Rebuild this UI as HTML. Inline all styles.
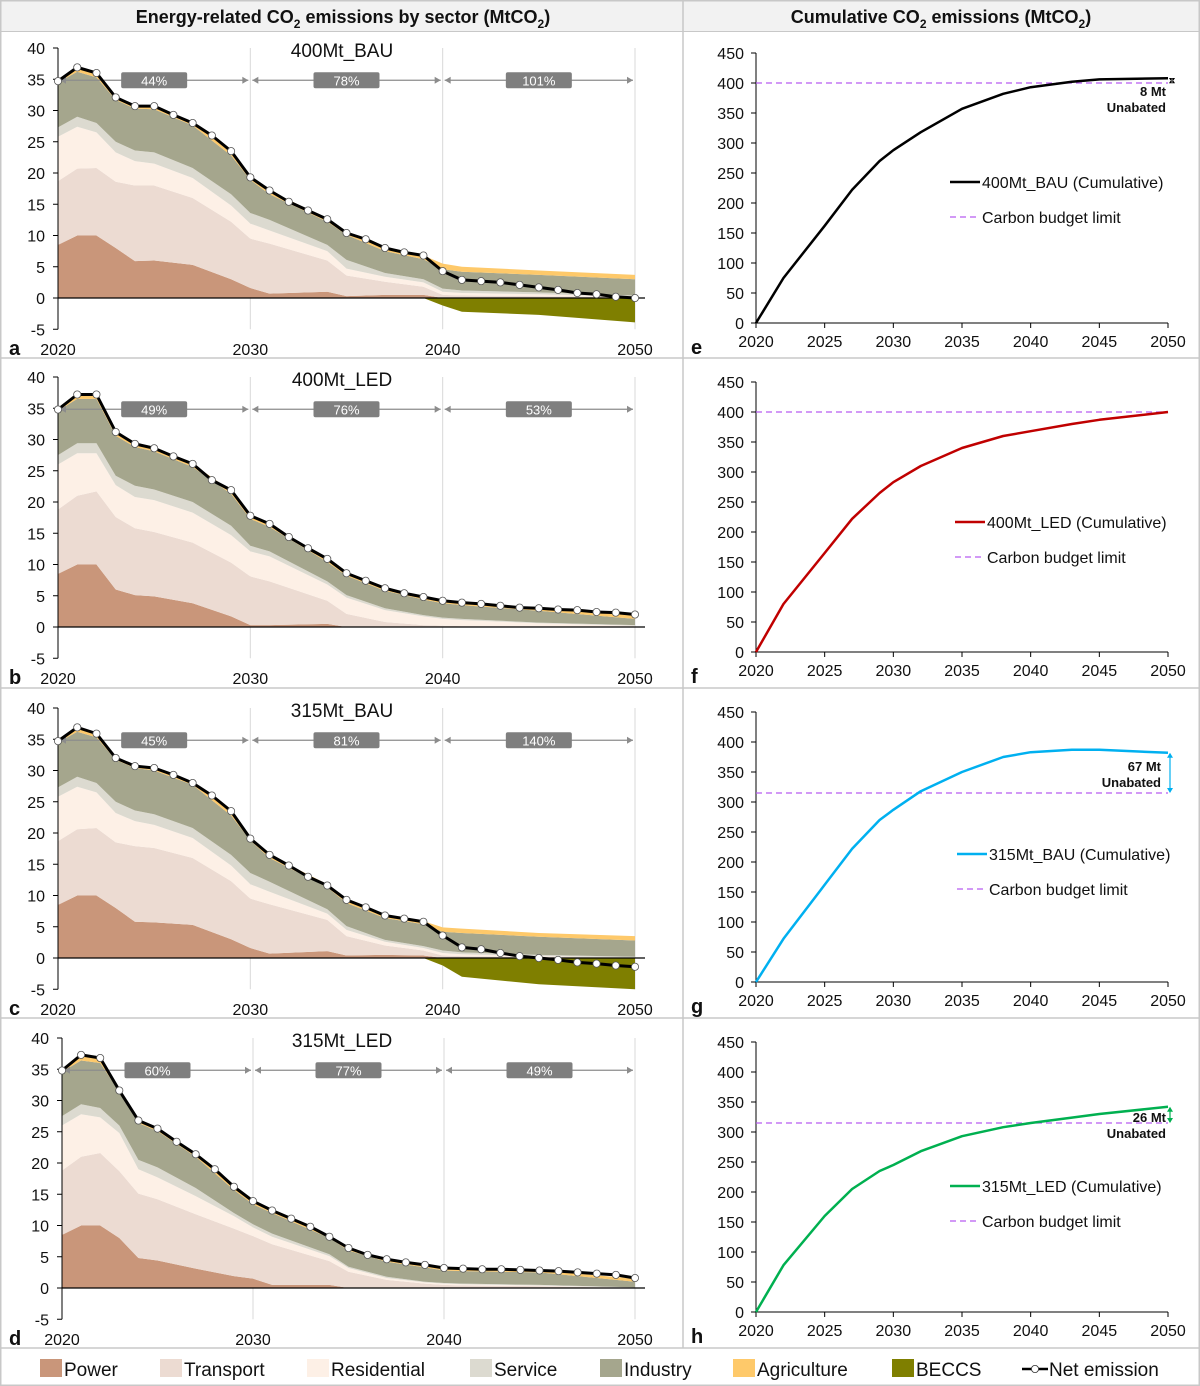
<!DOCTYPE html>
<html><head><meta charset="utf-8">
<style>
body{margin:0;background:#fff;}
svg{display:block;font-family:"Liberation Sans",Arial,sans-serif;}
</style></head>
<body>
<svg id="chart" width="1200" height="1386" viewBox="0 0 1200 1386" xmlns="http://www.w3.org/2000/svg">
<rect x="0" y="0" width="1200" height="1386" fill="#fff"/>
<rect x="0.5" y="0.5" width="1199" height="31" fill="#f2f2f2" stroke="#c8c8c8"/>
<text x="343" y="23" text-anchor="middle" font-size="18" font-weight="bold" fill="#111">Energy-related CO<tspan font-size="12" dy="5">2</tspan><tspan dy="-5"> emissions by sector (MtCO</tspan><tspan font-size="12" dy="5">2</tspan><tspan dy="-5">)</tspan></text>
<text x="941" y="23" text-anchor="middle" font-size="18" font-weight="bold" fill="#111">Cumulative CO<tspan font-size="12" dy="5">2</tspan><tspan dy="-5"> emissions (MtCO</tspan><tspan font-size="12" dy="5">2</tspan><tspan dy="-5">)</tspan></text>
<g id="frame" stroke="#c8c8c8" stroke-width="1.5" fill="none">
<rect x="0.75" y="0.75" width="1198.5" height="1384.5"/>
<line x1="683" y1="0" x2="683" y2="1348"/>
<line x1="0" y1="358" x2="1200" y2="358"/>
<line x1="0" y1="688" x2="1200" y2="688"/>
<line x1="0" y1="1018" x2="1200" y2="1018"/>
<line x1="0" y1="1348" x2="1200" y2="1348"/>
</g>
<g id="plots"></g>
<g id="legend"></g>
</svg>
<script>
// ---- Sector data (MtCO2) ----
const stackYears = [2020,2021,2022,2023,2024,2025,2027,2029,2030,2031,2034,2035,2037,2039,2040,2041,2045,2050];
const netYears = [2020,2021,2022,2023,2024,2025,2026,2027,2028,2029,2030,2031,2032,2033,2034,2035,2036,2037,2038,2039,2040,2041,2042,2043,2044,2045,2046,2047,2048,2049,2050];
const scenarioNames = ["400Mt_BAU","400Mt_LED","315Mt_BAU","315Mt_LED"];
const panelLetters = ["a","b","c","d"];
const decadeShares = [["44%","78%","101%"],["49%","76%","53%"],["45%","81%","140%"],["60%","77%","49%"]];

// 400Mt_BAU
const powerA = [8.5,10,10,8,5.9,6,5.3,3,1.6,0.7,1.0,0.3,0.5,0.5,0,0,0,0];
const transportA = [10.2,10.7,10.8,10.6,12.1,12,10.7,9.2,7.9,8.0,5.0,3.3,2.1,1.3,0.5,0.4,0.3,0.1];
const residentialA = [7.1,6.7,5.7,4.7,3.9,3.5,3.2,2.6,2.4,2.1,1.5,1.1,0.8,0.7,0.5,0.4,0.3,0.1];
const serviceA = [1.5,1.6,1.5,1.7,1.7,1.8,1.6,1.8,1.7,1.7,1.0,1.4,0.6,0.5,0.5,0.4,0.3,0.2];
const industryA = [7.2,7.2,7.3,6.7,6.7,6.9,6.8,6.2,5.3,4.1,3.7,4.0,3.5,3.2,3.1,3.0,2.8,2.6];
const agricultureA = [0.5,0.8,0.7,0.4,0.5,0.5,0.4,0.6,0.5,0.6,0.5,0.4,0.4,0.6,0.9,0.8,0.7,0.7];
const beccsA = [0,0,0,0,0,0,0,0,0,0,0,0,0,0,-1.2,-2.2,-2.7,-3.9];
const netA = [34.7,36.9,36,32.1,30.7,30.7,29.3,28,26,23.5,19.3,17.2,15.4,14,12.6,10.4,9.4,8.0,7.3,6.8,4.3,2.9,2.7,2.5,2.1,1.7,1.3,0.8,0.6,0.2,0];
// 400Mt_LED
const powerB = [8.5,10,10,6,5.1,4.9,3.8,1.7,0.3,0.3,0.5,0,0,0,0,0,0,0];
const transportB = [10.3,11,11.7,11.6,10.7,10.3,9.7,8.6,7.8,7.0,3.7,2.1,0.8,0.3,0.2,0.15,0.1,0];
const residentialB = [7.2,6.8,6.1,5.1,5.0,5.1,4.8,4.4,4.0,4.0,2.6,2.6,1.9,1.4,1.1,0.95,0.5,0.2];
const serviceB = [1.5,1.6,1.6,1.5,1.8,1.7,1.7,1.5,0.9,0.8,0.5,0.4,0.3,0.2,0.2,0.2,0.1,0.1];
const industryB = [7.1,7.1,7.1,6.4,6.2,6.1,5.6,5.1,4.3,3.9,3.1,3.1,2.8,2.5,2.3,2.2,1.9,1.0];
const agricultureB = [0.4,0.7,0.8,0.5,0.4,0.4,0.5,0.5,0.5,0.5,0.5,0.4,0.4,0.4,0.4,0.4,0.4,0.6];
const beccsB = [0,0,0,0,0,0,0,0,0,0,0,0,0,0,0,0,0,0];
const netB = [34.8,37.2,37.2,31.2,29.3,28.6,27.3,26.1,23.5,21.9,17.8,16.5,14.4,12.6,10.9,8.6,7.4,6.2,5.4,4.8,4.2,3.9,3.7,3.4,3.1,3.0,2.8,2.7,2.4,2.3,2.0];
// 315Mt_BAU
const powerC = [8.5,10,10,8,5.8,5.7,5.3,3,1.6,0.7,1.1,0.4,0.5,0.4,0,0,0,0];
const transportC = [10.2,10.6,10.8,10.5,12.1,11.9,10.7,9.3,7.9,7.9,5.0,3.1,1.5,0.8,0.4,0.3,0.1,0];
const residentialC = [7.1,6.8,5.7,4.7,4.0,3.7,3.2,2.5,2.3,2.0,1.0,1.0,0.6,0.4,0.4,0.3,0.2,0.1];
const serviceC = [1.5,1.6,1.5,1.8,1.7,1.7,1.6,1.7,1.8,1.6,0.7,0.6,0.3,0.3,0.4,0.3,0.2,0.1];
const industryC = [7.2,7.2,7.3,6.7,6.8,7.0,6.9,6.3,5.2,3.8,3.5,3.7,3.5,3.5,3.0,3.1,2.9,2.6];
const agricultureC = [0.5,0.8,0.7,0.4,0.4,0.4,0.4,0.6,0.4,0.5,0.5,0.5,0.5,0.5,0.7,0.7,0.6,0.7];
const beccsC = [0,0,0,0,0,0,0,0,0,0,0,0,0,0,-1.2,-3.0,-4.2,-5.0];
const netC = [34.7,36.9,35.9,32,30.7,30.4,29.3,28,26,23.5,19.1,16.5,14.8,13.0,11.6,9.3,8.1,6.8,6.3,5.8,3.6,1.7,1.4,0.8,0.3,0,-0.3,-0.7,-0.9,-1.2,-1.4];
// 315Mt_LED
const powerD = [8.5,10,10,8,4.8,4.4,3.1,1.9,1.5,0.5,0.5,0,0,0,0,0,0,0];
const transportD = [10.3,11,11.6,10.7,10.3,9.8,8.7,7.6,6.8,6.5,3.8,2.6,1.3,0.7,0.5,0.4,0.3,0];
const residentialD = [7.2,6.8,5.7,6.1,3.9,3.5,2.9,2.0,1.4,1.2,0.8,0.6,0.3,0.2,0.2,0.2,0.1,0.05];
const serviceD = [1.5,1.6,1.5,1.2,1.5,1.6,1.3,0.5,0.5,0.5,0.3,0.2,0.2,0.1,0.1,0.1,0.1,0.05];
const industryD = [7.1,7,7.2,5.4,5.9,5.8,5,3.7,3.2,3.3,2.6,2.6,2.4,2.3,2.0,2.0,2.0,0.9];
const agricultureD = [0.4,0.8,0.9,0.3,0.4,0.4,0.4,0.5,0.5,0.4,0.4,0.4,0.4,0.4,0.4,0.4,0.3,0.5];
const beccsD = [0,0,0,0,0,0,0,0,0,0,0,0,0,0,0,0,0,0];
const netD = [34.8,37.3,36.8,31.6,26.8,25.5,23.4,21.4,19,16.2,13.9,12.4,11.1,9.8,8.2,6.4,5.3,4.6,4.1,3.7,3.2,3.1,3.0,3.0,2.9,2.8,2.7,2.5,2.3,2.1,1.6];

// ---- Cumulative data ----
const cumYears = [2020,2022,2025,2027,2029,2030,2032,2035,2038,2040,2043,2045,2050];
const cumE = [0,75,162,222,270,288,318,357,382,393,402,406,408];
const cumF = [0,80,165,222,265,283,310,340,360,368,380,387,400];
const cumG = [0,72,162,222,270,287,318,350,375,383,387,387,382];
const cumH = [0,78,160,205,235,245,268,293,308,315,324,330,342];
const budgets = [400,400,315,315];
const cumNames = ["400Mt_BAU (Cumulative)","400Mt_LED (Cumulative)","315Mt_BAU (Cumulative)","315Mt_LED (Cumulative)"];
const unabatedLabels = ["8 Mt","","67 Mt","26 Mt"];
const rightTicks = [0,50,100,150,200,250,300,350,400,450];
const leftTicks = [-5,0,5,10,15,20,25,30,35,40];

const NS = "http://www.w3.org/2000/svg";
const plots = document.getElementById("plots");
function el(tag, attrs, parent, text){
  const e = document.createElementNS(NS, tag);
  for (const k in attrs) e.setAttribute(k, attrs[k]);
  if (text !== undefined) e.textContent = text;
  (parent || plots).appendChild(e);
  return e;
}
const sectorSets = [
  [powerA,transportA,residentialA,serviceA,industryA,agricultureA,beccsA,netA],
  [powerB,transportB,residentialB,serviceB,industryB,agricultureB,beccsB,netB],
  [powerC,transportC,residentialC,serviceC,industryC,agricultureC,beccsC,netC],
  [powerD,transportD,residentialD,serviceD,industryD,agricultureD,beccsD,netD]
];
const sectorColors = ["#c9967a","#ecdbd2","#fdf0e6","#dcdad0","#a5a68d","#fec96a"];
const sectorKeys = ["power","transport","residential","service","industry","agriculture"];
const zeroYs = [298,627,958,1288];
const x0s = [58,58,58,62];

for (let p=0;p<4;p++){
  const zy = zeroYs[p], xl = x0s[p], xr = 635;
  const X = yr => xl + (yr-2020)*(xr-xl)/30;
  const Y = v => zy - v*6.25;
  const g = el("g",{});
  
  
  [2030,2040,2050].forEach(yr=>{
    const l = el("line",{x1:X(yr),x2:X(yr),y1:Y(40),y2:Y(-5),stroke:"#d9d9d9","stroke-width":1},g);
    
    
  });
  const sets = sectorSets[p];
  const base = stackYears.map(()=>0);
  for (let s=0;s<6;s++){
    const vals = sets[s];
    const lower = base.slice();
    for (let i=0;i<base.length;i++) base[i]+=vals[i];
    let d = "M"+stackYears.map((yr,i)=>X(yr)+","+Y(base[i])).join(" L");
    for (let i=stackYears.length-1;i>=0;i--) d += " L"+X(stackYears[i])+","+Y(lower[i]);
    const a = el("path",{d:d+"Z",fill:sectorColors[s]},g);
    
    
  }
  const bec = sets[6];
  let first = bec.findIndex(v=>v<0);
  if (first>0){
    let d = "M"+X(stackYears[first-1])+","+Y(0);
    for (let i=first;i<stackYears.length;i++) d+=" L"+X(stackYears[i])+","+Y(bec[i]);
    d+=" L"+X(2050)+","+Y(0)+"Z";
    const b = el("path",{d:d,fill:"#7f7f00"},g);
    
    
  }
  const ya = el("line",{x1:xl,x2:xl,y1:Y(40),y2:Y(-5),stroke:"#000","stroke-width":1},g);
  
  
  const xa = el("line",{x1:xl,x2:645,y1:zy,y2:zy,stroke:"#000","stroke-width":1.2},g);
  
  
  leftTicks.forEach(t=>{
    el("line",{x1:xl-5,x2:xl,y1:Y(t),y2:Y(t),stroke:"#000"},g);
    const tl = el("text",{x:xl-13,y:Y(t)+6,"text-anchor":"end","font-size":16,fill:"#111"},g,String(t));
    
    
  });
  [2020,2030,2040,2050].forEach(yr=>{
    const xl2 = el("text",{x:X(yr),y:zy+57,"text-anchor":"middle","font-size":16,fill:"#111"},g,String(yr));
    
    
  });
  const lt = el("text",{x:9,y:zy+57,"font-size":20,"font-weight":"bold",fill:"#111"},g,panelLetters[p]);
  
  
  const tt = el("text",{x:342,y:zy-241,"text-anchor":"middle","font-size":19,fill:"#111"},g,scenarioNames[p]);
  
  
  for (let k=0;k<3;k++){
    const xa1 = X(2020+k*10)+2, xa2 = X(2030+k*10)-2, ay = Y(35)+1;
    const ar = el("line",{x1:xa1,x2:xa2,y1:ay,y2:ay,stroke:"#8c8c8c","stroke-width":1.2},g);
    
    
    el("path",{d:`M${xa1},${ay} l6,-3.5 v7z M${xa2},${ay} l-6,-3.5 v7z`,fill:"#8c8c8c"},g);
    const cx = X(2025+k*10);
    const bx = el("rect",{x:cx-33,y:ay-8,width:66,height:16,rx:2,fill:"#7f7f7f"},g);
    
    
    el("text",{x:cx,y:ay+5,"text-anchor":"middle","font-size":13,fill:"#fff"},g,decadeShares[p][k]);
  }
  const net = sets[7];
  const nl = el("polyline",{points:netYears.map((yr,i)=>X(yr)+","+Y(net[i])).join(" "),fill:"none",stroke:"#000","stroke-width":3,"stroke-linejoin":"round"},g);
  
  
  netYears.forEach((yr,i)=>{
    const c = el("circle",{cx:X(yr),cy:Y(net[i]),r:3.6,fill:"#fff",stroke:"#555","stroke-width":0.8},g);
    
    
  });
}

// ---- Right panels ----
const cumSets = [cumE,cumF,cumG,cumH];
const cumColors = ["#000000","#c00000","#00b0f0","#00b050"];
const rZero = [323,652,982,1312];
const rLetters = ["e","f","g","h"];
const legendY = [182,522,854,1186];
const legendX = [950,955,957,950];
const annY = [92,0,767,1118];
for (let p=0;p<4;p++){
  const zy = rZero[p];
  const X = yr => 756 + (yr-2020)*(1168-756)/30;
  const Y = v => zy - v*0.6;
  const g = el("g",{});
  
  
  const ya = el("line",{x1:756,x2:756,y1:Y(450),y2:zy,stroke:"#000"},g);
  
  
  const xa = el("line",{x1:756,x2:1168,y1:zy,y2:zy,stroke:"#000"},g);
  
  
  rightTicks.forEach(t=>{
    el("line",{x1:751,x2:756,y1:Y(t),y2:Y(t),stroke:"#000"},g);
    const tl = el("text",{x:744,y:Y(t)+6,"text-anchor":"end","font-size":16,fill:"#111"},g,String(t));
    
    
  });
  for (let yr=2020;yr<=2050;yr+=5){
    el("line",{x1:X(yr),x2:X(yr),y1:zy,y2:zy+5,stroke:"#000"},g);
    const xl = el("text",{x:X(yr),y:zy+24,"text-anchor":"middle","font-size":16,fill:"#111"},g,String(yr));
    
    
  }
  const lt = el("text",{x:691,y:zy+31,"font-size":20,"font-weight":"bold",fill:"#111"},g,rLetters[p]);
  
  
  const bl = el("line",{x1:756,x2:1168,y1:Y(budgets[p]),y2:Y(budgets[p]),stroke:"#b75cf0","stroke-width":1.2,"stroke-dasharray":"6,4"},g);
  
  
  const cs = cumSets[p];
  const cl = el("polyline",{points:cumYears.map((yr,i)=>X(yr)+","+Y(cs[i])).join(" "),fill:"none",stroke:cumColors[p],"stroke-width":2.5,"stroke-linejoin":"round"},g);
  
  
  const lx = legendX[p], ly = legendY[p];
  const l1 = el("line",{x1:lx,x2:lx+30,y1:ly,y2:ly,stroke:cumColors[p],"stroke-width":2.5},g);
  
  
  el("text",{x:lx+32,y:ly+6,"font-size":16,fill:"#111"},g,cumNames[p]);
  const l2 = el("line",{x1:lx,x2:lx+30,y1:ly+35,y2:ly+35,stroke:"#b75cf0","stroke-width":1.2,"stroke-dasharray":"6,4"},g);
  
  
  el("text",{x:lx+32,y:ly+41,"font-size":16,fill:"#111"},g,"Carbon budget limit");
  if (unabatedLabels[p]){
    const endV = cs[cs.length-1], ax = p===0?1172:1170;
    const ac = p===0?"#000":cumColors[p];
    const an = el("line",{x1:ax,x2:ax,y1:Y(endV)+1,y2:Y(budgets[p])-1,stroke:ac,"stroke-width":1.2},g);
    
    
    el("path",{d:`M${ax},${Y(endV)} l-3,5 h6z M${ax},${Y(budgets[p])} l-3,-5 h6z`,fill:ac},g);
    const ty = annY[p], tx = p===2?1161:1166;
    const a1 = el("text",{x:tx,y:ty+4,"text-anchor":"end","font-size":13,"font-weight":"bold",fill:"#111"},g,unabatedLabels[p]);
    
    
    el("text",{x:tx,y:ty+20,"text-anchor":"end","font-size":13,"font-weight":"bold",fill:"#111"},g,"Unabated");
  }
}

// ---- Bottom legend ----
const legendNames = ["Power","Transport","Residential","Service","Industry","Agriculture","BECCS"];
const legendColors = ["#c9967a","#ecdbd2","#fdf0e6","#dcdad0","#a5a68d","#fec96a","#7f7f00"];
const legendXs = [40,160,307,470,600,733,892];
const lg = document.getElementById("legend");
legendNames.forEach((n,i)=>{
  const r = el("rect",{x:legendXs[i],y:1359,width:22,height:18,fill:legendColors[i]},lg);
  
  
  const t = el("text",{x:legendXs[i]+24,y:1376,"font-size":19,fill:"#111"},lg,n);
  
  
});
const nl2 = el("line",{x1:1022,x2:1048,y1:1369,y2:1369,stroke:"#000","stroke-width":2.5},lg);


el("circle",{cx:1035,cy:1369,r:3.6,fill:"#fff",stroke:"#333","stroke-width":0.8},lg);
const nt = el("text",{x:1049,y:1376,"font-size":19,fill:"#111"},lg,"Net emission");


</script>
</body></html>
